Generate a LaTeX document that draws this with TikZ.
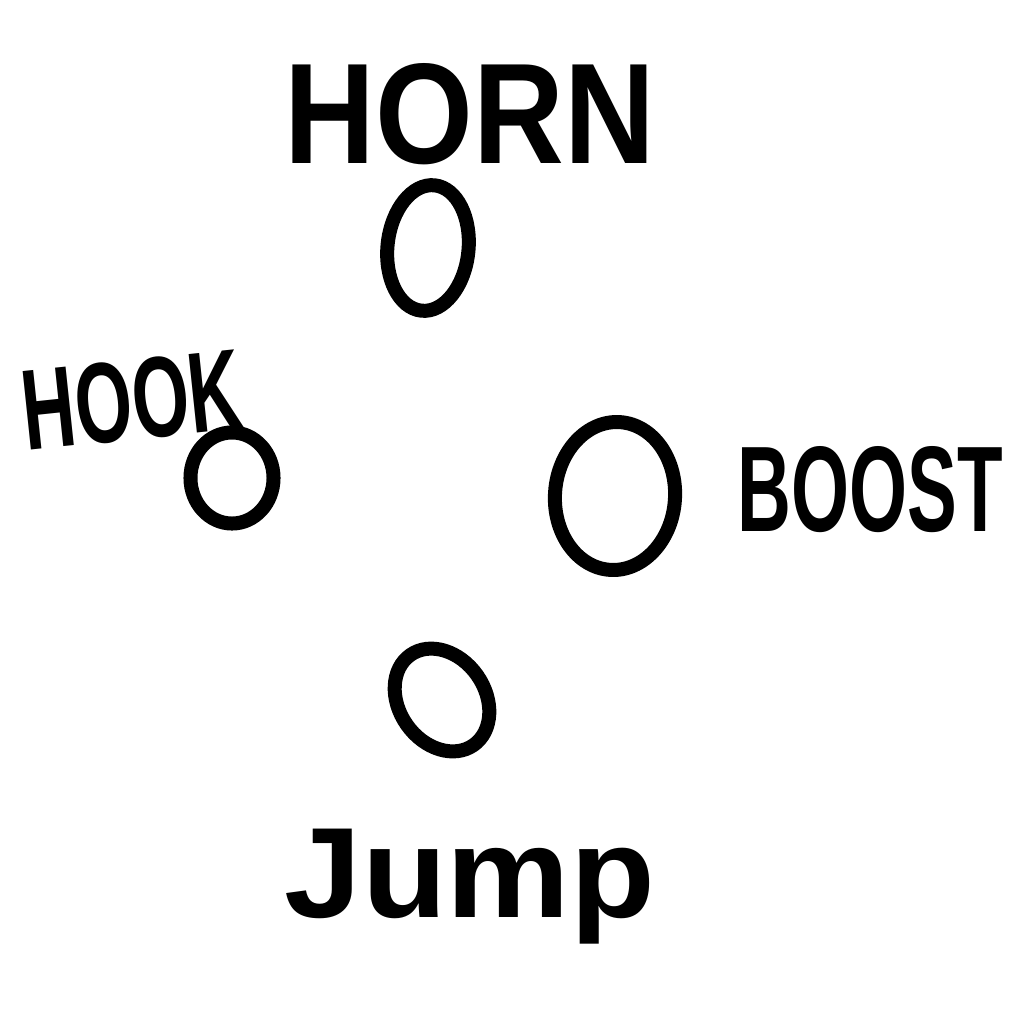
\documentclass[tikz,border=0pt]{standalone}
\usepackage{fontspec}
\setmainfont{Liberation Sans}
\usetikzlibrary{shapes.geometric}
\begin{document}
\begin{tikzpicture}[x=0.01cm,y=-0.01cm,
  ring/.style={ellipse,draw=black,line width=0.14cm,inner sep=0pt,outer sep=0pt},
  lbl/.style={inner sep=0pt,outer sep=0pt,anchor=center,text=black,font=\bfseries}]
\useasboundingbox[fill=white] (0,0) rectangle (1024,1024);
% rings
\node[ring,minimum width=0.81cm,minimum height=1.26cm,rotate=-6] (hornring) at (428,248) {};
\node[ring,minimum width=0.83cm,minimum height=0.91cm] (hookring) at (232,478) {};
\node[ring,minimum width=1.20cm,minimum height=1.48cm,rotate=-4] (boostring) at (615,496) {};
\node[ring,minimum width=0.86cm,minimum height=1.10cm,rotate=35] (jumpring) at (442,700) {};
% labels
\node[lbl] (horn) at (470,114) {\resizebox{3.7cm}{1.0cm}{HORN}};
\node[lbl,rotate=6] (hook) at (132,400) {\resizebox{2.2cm}{0.8cm}{HOOK}};
\node[lbl] (boost) at (870,490) {\resizebox{2.65cm}{0.85cm}{BOOST}};
\node[lbl] (jump) at (470,887) {\resizebox*{3.7cm}{1.15cm}{Jump}};
\end{tikzpicture}
\end{document}
